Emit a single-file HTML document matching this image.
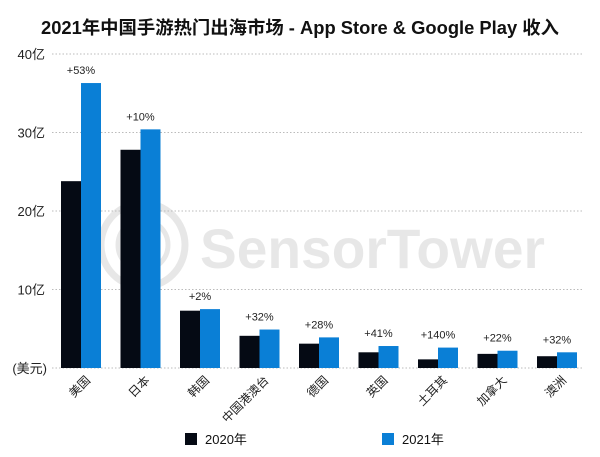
<!DOCTYPE html>
<html><head><meta charset="utf-8"><style>
body{margin:0;background:#fff;}
svg text{font-family:"Liberation Sans","Noto Sans CJK SC",sans-serif;}
</style></head><body>
<svg width="600" height="452" viewBox="0 0 600 452">
<text x="300" y="34" text-anchor="middle" font-size="18" font-weight="bold" fill="#111" textLength="518" lengthAdjust="spacingAndGlyphs">2021年中国手游热门出海市场 - App Store &amp; Google Play 收入</text>
<g opacity="0.09">
<circle cx="143" cy="245" r="42" fill="none" stroke="#000" stroke-width="7"/>
<circle cx="143" cy="245" r="25" fill="none" stroke="#000" stroke-width="5"/>
<text x="200" y="268" font-size="56" font-weight="bold" fill="#000" textLength="345" lengthAdjust="spacingAndGlyphs">SensorTower</text>
</g>
<g id="grid"></g>
<g id="bars"></g>
<g id="labels"></g>
<g>
<rect x="185" y="433" width="12" height="12" fill="#050a14"/>
<text x="205" y="444" font-size="13" fill="#111">2020年</text>
<rect x="382" y="433" width="12" height="12" fill="#0a7fd6"/>
<text x="402" y="444" font-size="13" fill="#111">2021年</text>
</g>
</svg>
<script>
const categories=["美国","日本","韩国","中国港澳台","德国","英国","土耳其","加拿大","澳洲"];
const values2020=[23.8,27.8,7.3,4.1,3.1,2.0,1.1,1.8,1.5];
const values2021=[36.3,30.4,7.5,4.9,3.9,2.8,2.6,2.2,2.0];
const growthLabels=["+53%","+10%","+2%","+32%","+28%","+41%","+140%","+22%","+32%"];
const yTicks=[0,10,20,30,40];
const yTickLabels=["(美元)","10亿","20亿","30亿","40亿"];
const NS="http://www.w3.org/2000/svg";
const y0=368,pxPer=7.85;
function y(v){return y0-v*pxPer;}
function gx(i){return 81+i*59.5;}
function mk(t,a,p){const e=document.createElementNS(NS,t);for(const k in a)e.setAttribute(k,a[k]);p.appendChild(e);return e;}
const grid=document.getElementById('grid'),bars=document.getElementById('bars'),labels=document.getElementById('labels');
yTicks.forEach((t,i)=>{
 const l=mk('line',{x1:52,x2:584,y1:y(t),y2:y(t),stroke:'#bbb','stroke-width':1,'stroke-dasharray':'1.5 2'},grid);
 
 
 const tx=mk('text',{x:i===0?47:45,y:y(t)+5,'text-anchor':'end','font-size':13,fill:'#222'},grid);
 tx.textContent=yTickLabels[i];
 
 
});
categories.forEach((c,i)=>{
 const cx=gx(i);
 const b1=mk('rect',{x:cx-20,y:y(values2020[i]),width:20,height:values2020[i]*pxPer,fill:'#050a14'},bars);
 
 
 const b2=mk('rect',{x:cx,y:y(values2021[i]),width:20,height:values2021[i]*pxPer,fill:'#0a7fd6'},bars);
 
 
 const g=mk('text',{x:cx,y:y(Math.max(values2020[i],values2021[i]))-9,'text-anchor':'middle','font-size':11,fill:'#222'},labels);
 g.textContent=growthLabels[i];
 
 
 const t=mk('text',{x:cx+10,y:381,'text-anchor':'end','font-size':12,fill:'#222',transform:`rotate(-45 ${cx+10} 381)`},labels);
 t.textContent=c;
 
 
});
</script>
</body></html>
